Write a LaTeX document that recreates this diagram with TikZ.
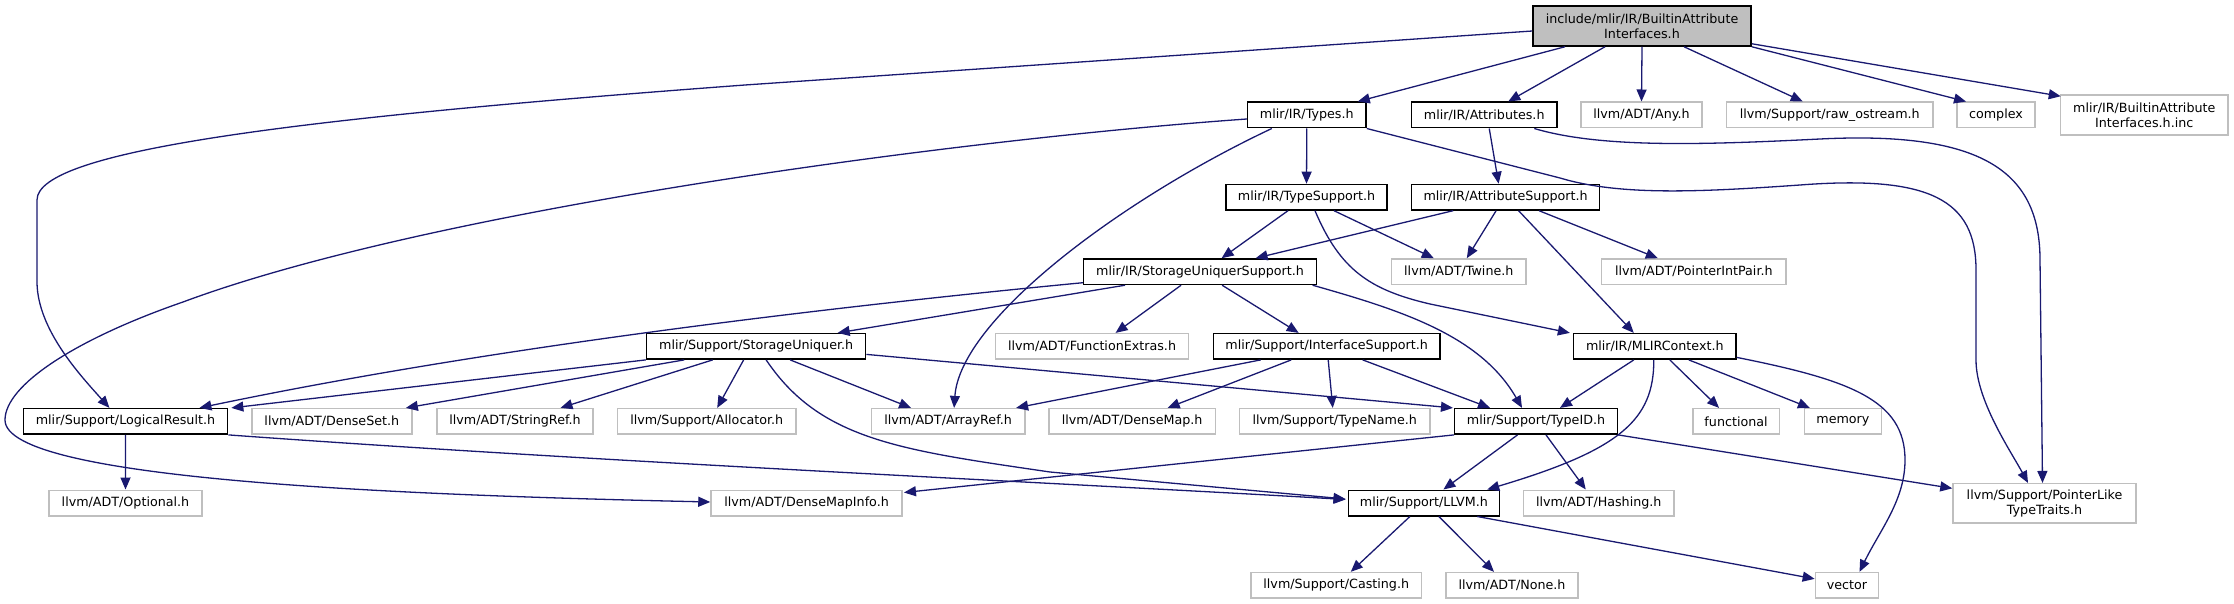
\documentclass[tikz,border=0pt]{standalone}
\usepackage{fontspec}
\setmainfont{DejaVu Sans}
\usetikzlibrary{arrows.meta,calc}
\definecolor{edgecol}{HTML}{191970}
\definecolor{undoc}{HTML}{BFBFBF}
\tikzset{
  box/.style={draw=black, line width=1.5pt, fill=white, inner sep=0pt, minimum height=25.5pt, align=center,
    font=\fontsize{12.7}{15}\selectfont},
  ubox/.style={box, draw=undoc},
  conn/.style={draw=edgecol, line width=1.3pt, -{Triangle[length=12pt,width=10pt]}},
}
\begin{document}
\begin{tikzpicture}[x=1pt,y=-1pt]
\useasboundingbox (0,0) rectangle (2234,604);
% row 0
\node[box, fill=undoc, minimum width=218pt, minimum height=40pt] (T) at (1642,26) {include/mlir/IR/BuiltinAttribute\\Interfaces.h};
% row 1
\node[box, minimum width=118.4pt] (Types) at (1306.8,115) {mlir/IR/Types.h};
\node[box, minimum width=145.5pt] (Attr) at (1484.25,115) {mlir/IR/Attributes.h};
\node[ubox, minimum width=121pt] (Any) at (1641.5,115) {llvm/ADT/Any.h};
\node[ubox, minimum width=206.5pt] (Raw) at (1829.75,115) {llvm/Support/raw\_ostream.h};
\node[ubox, minimum width=78pt] (Cx) at (1996,115) {complex};
\node[ubox, minimum width=167.5pt, minimum height=40pt] (Inc) at (2144.25,115) {mlir/IR/BuiltinAttribute\\Interfaces.h.inc};
% row 2
\node[box, minimum width=161pt] (TS) at (1306.5,197.2) {mlir/IR/TypeSupport.h};
\node[box, minimum width=188.2pt] (AS) at (1505.6,197.2) {mlir/IR/AttributeSupport.h};
% row 3
\node[box, minimum width=232.8pt] (SUS) at (1200.1,271.7) {mlir/IR/StorageUniquerSupport.h};
\node[ubox, minimum width=134.4pt] (Tw) at (1458.8,271.7) {llvm/ADT/Twine.h};
\node[ubox, minimum width=184.4pt] (PIP) at (1693.8,271.7) {llvm/ADT/PointerIntPair.h};
% row 4
\node[box, minimum width=219.1pt] (SU) at (756.15,346.4) {mlir/Support/StorageUniquer.h};
\node[ubox, minimum width=193.3pt] (FE) at (1092.05,346.4) {llvm/ADT/FunctionExtras.h};
\node[box, minimum width=226.6pt] (IS) at (1326.7,346.4) {mlir/Support/InterfaceSupport.h};
\node[box, minimum width=162.4pt] (MC) at (1654.8,346.4) {mlir/IR/MLIRContext.h};
% row 5
\node[box, minimum width=204.3pt] (LR) at (125.45,421.4) {mlir/Support/LogicalResult.h};
\node[ubox, minimum width=160.1pt] (DS) at (331.85,421.4) {llvm/ADT/DenseSet.h};
\node[ubox, minimum width=156pt] (SR) at (515,421.4) {llvm/ADT/StringRef.h};
\node[ubox, minimum width=178.2pt] (Al) at (706.7,421.4) {llvm/Support/Allocator.h};
\node[ubox, minimum width=153.4pt] (AR) at (948.1,421.4) {llvm/ADT/ArrayRef.h};
\node[ubox, minimum width=166.3pt] (DM) at (1132.15,421.4) {llvm/ADT/DenseMap.h};
\node[ubox, minimum width=190.5pt] (TN) at (1334.75,421.4) {llvm/Support/TypeName.h};
\node[box, minimum width=162.6pt] (TI) at (1536,421.4) {mlir/Support/TypeID.h};
\node[ubox, minimum width=86.5pt] (Fn) at (1736.05,421.4) {functional};
\node[ubox, minimum width=77pt] (Mem) at (1842.9,421.4) {memory};
% row 6
\node[ubox, minimum width=153pt] (Opt) at (125.5,503) {llvm/ADT/Optional.h};
\node[ubox, minimum width=191.2pt] (DMI) at (806.6,503) {llvm/ADT/DenseMapInfo.h};
\node[box, minimum width=151.2pt] (LL) at (1423.9,503) {mlir/Support/LLVM.h};
\node[ubox, minimum width=150.1pt] (Ha) at (1598.75,503) {llvm/ADT/Hashing.h};
\node[ubox, minimum width=183pt, minimum height=39.3pt] (PL) at (2044.5,503.35) {llvm/Support/PointerLike\\TypeTraits.h};
% row 7
\node[ubox, minimum width=170.5pt] (Ca) at (1336.25,585.35) {llvm/Support/Casting.h};
\node[ubox, minimum width=131.6pt] (No) at (1512,585.35) {llvm/ADT/None.h};
\node[ubox, minimum width=63.2pt] (Vec) at (1847,585.35) {vector};

% edges from T
\draw[conn] ($(T.west)+(0,5)$) -- (745,85) .. controls (300,118) and (37,150) .. (37,200) -- (37,283) .. controls (38,330) and (80,375) .. ($(LR.north)+(-16,0)$);
\draw[conn] ($(T.south)+(-77,0)$) -- ($(Types.north)+(51,0)$);
\draw[conn] ($(T.south)+(-37,0)$) -- ($(Attr.north)+(24,0)$);
\draw[conn] (T.south) -- (Any.north);
\draw[conn] ($(T.south)+(42,0)$) -- ($(Raw.north)+(-27,0)$);
\draw[conn] (T.south east) -- ($(Cx.north)+(-30,0)$);
\draw[conn] ($(T.south east)+(0,-3)$) -- ($(Inc.north west)+(1,2)$);
% Types
\draw[conn] (Types.south) -- (TS.north);
\draw[conn] ($(Types.west)+(0,4)$) .. controls (950,140) and (430,210) .. (183,302) .. controls (76,339) and (5,385) .. (5,420) .. controls (5,480) and (400,495) .. ($(DMI.west)+(0,-1)$);
\draw[conn] ($(Types.south)+(-35,0)$) .. controls (1120,200) and (960,320) .. ($(AR.north)+(6,0)$);
\draw[conn] (Types.south east) -- (1560,178) .. controls (1620,196) and (1700,192) .. (1800,185) .. controls (1930,175) and (1976,200) .. (1976,270) -- (1976,360) .. controls (1976,400) and (2010,450) .. ($(PL.north)+(-16.5,0)$);
% Attributes
\draw[conn] ($(Attr.south)+(5,0)$) -- ($(AS.north)+(-7,0)$);
\draw[conn] ($(Attr.south)+(50,0)$) .. controls (1600,148) and (1700,145) .. (1820,139) .. controls (1980,131) and (2040,170) .. (2040,260) -- ($(PL.north)+(-2,0)$);
% TypeSupport
\draw[conn] ($(TS.south)+(-18.5,0)$) -- ($(SUS.north)+(21.5,0)$);
\draw[conn] ($(TS.south)+(27.5,0)$) -- ($(Tw.north)+(-25,0)$);
\draw[conn] ($(TS.south)+(8.5,0)$) .. controls (1340,270) and (1370,290) .. (1430,304) -- ($(MC.north west)+(-3,0)$);
% AttributeSupport
\draw[conn] ($(AS.south)+(-52.5,0)$) -- ($(SUS.north)+(55.5,0)$);
\draw[conn] ($(AS.south)+(-9.5,0)$) -- ($(Tw.north)+(8,0)$);
\draw[conn] ($(AS.south)+(33.5,0)$) -- ($(PIP.north)+(-36,0)$);
\draw[conn] ($(AS.south)+(13,0)$) -- ($(MC.north)+(-21,0)$);
% StorageUniquerSupport
\draw[conn] ($(SUS.south)+(-75,0)$) -- ($(SU.north)+(81.5,0)$);
\draw[conn] ($(SUS.west)+(0,11)$) .. controls (850,305) and (500,345) .. ($(LR.north)+(74,0)$);
\draw[conn] ($(SUS.south)+(-19,0)$) -- ($(FE.north)+(23.5,0)$);
\draw[conn] ($(SUS.south)+(22,0)$) -- ($(IS.north)+(-28,0)$);
\draw[conn] ($(SUS.south)+(112.5,0)$) .. controls (1400,310) and (1480,335) .. ($(TI.north)+(-14,0)$);
% StorageUniquer
\draw[conn] (SU.south west) -- ($(LR.north east)+(3,0)$);
\draw[conn] ($(SU.south)+(-72,0)$) -- ($(DS.north)+(74,0)$);
\draw[conn] ($(SU.south)+(-43.5,0)$) -- ($(SR.north)+(45.5,0)$);
\draw[conn] ($(SU.south)+(-12.5,0)$) -- ($(Al.north)+(10.5,0)$);
\draw[conn] ($(SU.south)+(34,0)$) -- ($(AR.north)+(-37,0)$);
\draw[conn] ($(SU.south)+(10,0)$) .. controls (820,440) and (900,450) .. (1050,472) -- ($(LL.west)+(-2,-4)$);
\draw[conn] ($(SU.east)+(0,8)$) -- ($(TI.north west)+(-1,0)$);
% InterfaceSupport
\draw[conn] ($(IS.south)+(-66,0)$) -- ($(AR.north)+(68,0)$);
\draw[conn] ($(IS.south)+(-35.5,0)$) -- ($(DM.north)+(35.5,0)$);
\draw[conn] ($(IS.south)+(1.5,0)$) -- ($(TN.north)+(-2,0)$);
\draw[conn] ($(IS.south)+(36,0)$) -- ($(TI.north)+(-46,0)$);
% MLIRContext
\draw[conn] ($(MC.south)+(-21,0)$) -- ($(TI.north)+(24,0)$);
\draw[conn] ($(MC.south)+(-1,0)$) .. controls (1654,420) and (1620,450) .. ($(LL.north east)+(-13,0)$);
\draw[conn] ($(MC.south)+(15,0)$) -- ($(Fn.north)+(-17,0)$);
\draw[conn] ($(MC.south)+(34,0)$) -- ($(Mem.north)+(-33,0)$);
\draw[conn] ($(MC.east)+(0,11)$) .. controls (1850,380) and (1905,400) .. (1905,460) .. controls (1905,500) and (1880,530) .. ($(Vec.north)+(12.5,0)$);
% TypeID
\draw[conn] (TI.south west) -- ($(DMI.north east)+(1,3)$);
\draw[conn] ($(TI.south)+(-18.5,0)$) -- ($(LL.north)+(19.5,0)$);
\draw[conn] ($(TI.south)+(10,0)$) -- ($(Ha.north)+(-13,0)$);
\draw[conn] (TI.south east) -- ($(PL.west)+(0,-15)$);
% LogicalResult
\draw[conn] (LR.south) -- (Opt.north);
\draw[conn] (LR.south east) .. controls (600,462) and (1100,485) .. ($(LL.west)+(-2,-3.5)$);
% LLVM
\draw[conn] ($(LL.south)+(-14,0)$) -- ($(Ca.north)+(14.5,0)$);
\draw[conn] ($(LL.south)+(15,0)$) -- ($(No.north)+(-18,0)$);
\draw[conn] ($(LL.south east)+(-23,0)$) -- ($(Vec.west)+(0,-6.5)$);
\end{tikzpicture}
\end{document}
